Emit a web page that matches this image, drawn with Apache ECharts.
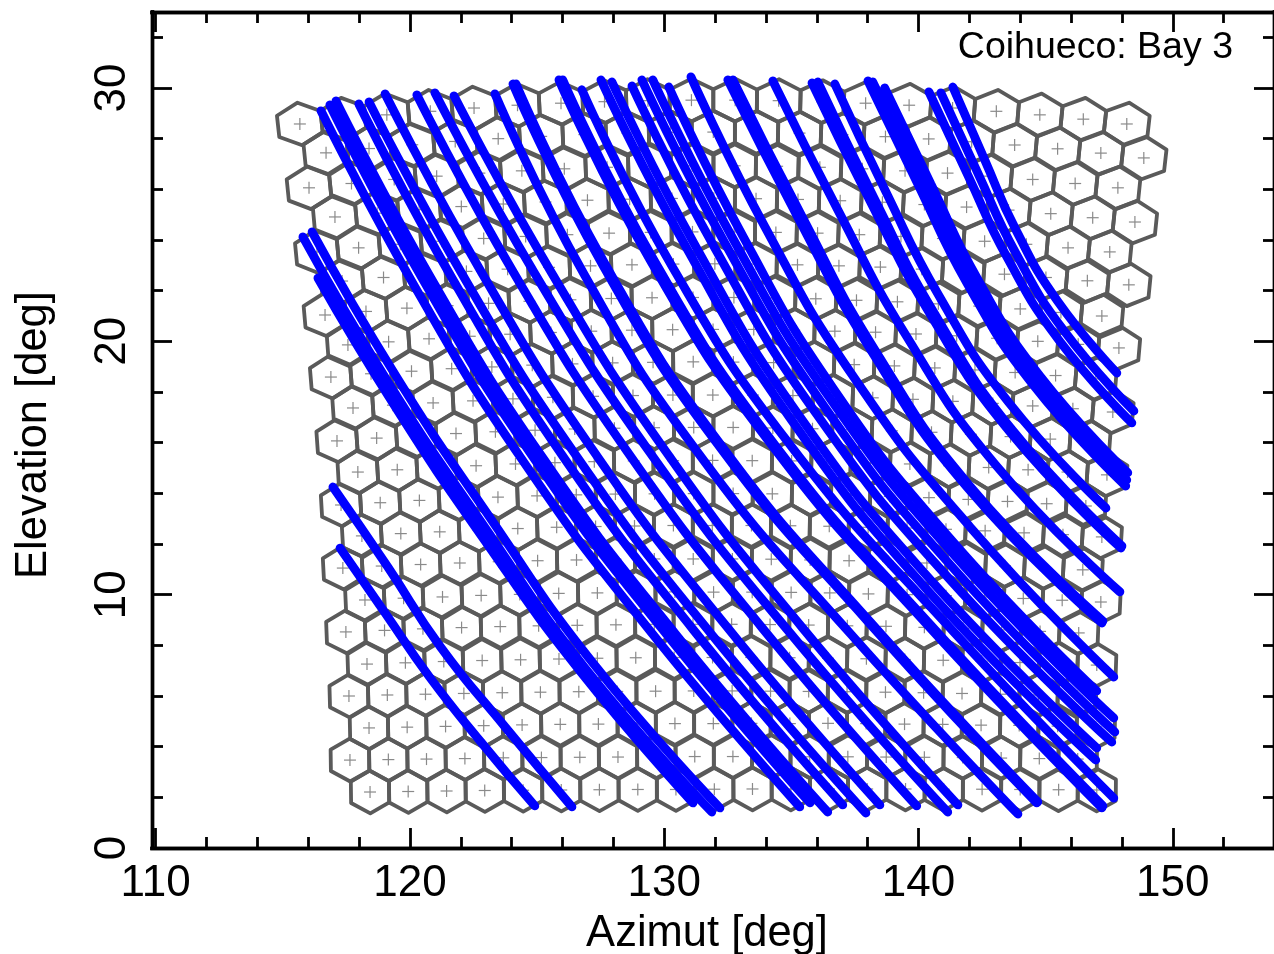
<!DOCTYPE html>
<html><head><meta charset="utf-8"><style>html,body{margin:0;padding:0;background:#fff}#c{width:1274px;height:954px}</style>
<script src="https://cdn.jsdelivr.net/npm/echarts@6/dist/echarts.min.js"></script></head><body><div id="c"></div>
<script>
const xMajor=[110,120,130,140,150];
const xMinor=[112,114,116,118,122,124,126,128,132,134,136,138,142,144,146,148,152];
const yMajor=[0,10,20,30];
const yMinor=[2,4,6,8,12,14,16,18,22,24,26,28,32];
const titleText="Coihueco: Bay 3";
const rowAz=[
[115.67,117.38,119.09,120.80,122.52,124.23,125.94,127.65,129.36,131.07,132.79,134.50,136.21,137.92,139.63,141.34,143.06,144.77,146.48,148.19],
[116.70,118.39,120.09,121.78,123.47,125.16,126.86,128.55,130.24,131.93,133.63,135.32,137.01,138.70,140.40,142.09,143.78,145.47,147.17,148.86],
[116.03,117.70,119.38,121.05,122.73,124.40,126.07,127.75,129.42,131.10,132.77,134.44,136.12,137.79,139.47,141.14,142.81,144.49,146.16,147.84],
[117.05,118.71,120.36,122.02,123.67,125.33,126.98,128.64,130.30,131.95,133.61,135.26,136.92,138.58,140.23,141.89,143.54,145.20,146.85,148.51],
[116.34,117.98,119.62,121.26,122.90,124.55,126.19,127.83,129.47,131.11,132.75,134.39,136.03,137.67,139.31,140.96,142.60,144.24,145.88,147.52],
[117.33,118.96,120.59,122.22,123.84,125.47,127.10,128.73,130.36,131.99,133.61,135.24,136.87,138.50,140.13,141.76,143.38,145.01,146.64,148.27],
[116.66,118.27,119.88,121.48,123.09,124.70,126.31,127.92,129.52,131.13,132.74,134.35,135.96,137.56,139.17,140.78,142.39,144.00,145.60,147.21],
[117.56,119.16,120.75,122.35,123.94,125.54,127.13,128.73,130.33,131.92,133.52,135.11,136.71,138.31,139.90,141.50,143.09,144.69,146.28,147.88],
[116.89,118.47,120.06,121.64,123.22,124.81,126.39,127.97,129.56,131.14,132.72,134.30,135.89,137.47,139.05,140.64,142.22,143.80,145.39,146.97],
[117.76,119.33,120.91,122.48,124.05,125.62,127.20,128.77,130.34,131.91,133.49,135.06,136.63,138.20,139.78,141.35,142.92,144.49,146.07,147.64],
[117.13,118.69,120.25,121.81,123.36,124.92,126.48,128.04,129.60,131.16,132.71,134.27,135.83,137.39,138.95,140.51,142.06,143.62,145.18,146.74],
[117.95,119.50,121.05,122.60,124.15,125.70,127.25,128.80,130.35,131.90,133.46,135.01,136.56,138.11,139.66,141.21,142.76,144.31,145.86,147.41],
[117.29,118.83,120.37,121.92,123.46,125.00,126.54,128.08,129.62,131.16,132.71,134.25,135.79,137.33,138.87,140.41,141.96,143.50,145.04,146.58],
[118.11,119.64,121.17,122.70,124.24,125.77,127.30,128.83,130.36,131.89,133.43,134.96,136.49,138.02,139.55,141.08,142.62,144.15,145.68,147.21],
[117.36,118.89,120.42,121.96,123.49,125.02,126.55,128.08,129.61,131.14,132.68,134.21,135.74,137.27,138.80,140.33,141.87,143.40,144.93,146.46],
[118.23,119.75,121.28,122.80,124.32,125.85,127.37,128.89,130.42,131.94,133.46,134.99,136.51,138.03,139.55,141.08,142.60,144.12,145.65,147.17],
[117.48,119.00,120.51,122.03,123.55,125.06,126.58,128.10,129.61,131.13,132.65,134.16,135.68,137.20,138.72,140.23,141.75,143.27,144.78,146.30],
[118.31,119.82,121.33,122.84,124.35,125.86,127.37,128.88,130.39,131.90,133.42,134.93,136.44,137.95,139.46,140.97,142.48,143.99,145.50,147.01],
[117.60,119.11,120.61,122.12,123.63,125.13,126.64,128.15,129.66,131.16,132.67,134.18,135.68,137.19,138.70,140.20,141.71,143.22,144.72,146.23],
[118.39,119.89,121.40,122.90,124.41,125.91,127.41,128.92,130.42,131.93,133.43,134.94,136.44,137.94,139.45,140.95,142.46,143.96,145.47,146.97],
[117.64,119.15,120.65,122.16,123.67,125.17,126.68,128.18,129.69,131.20,132.70,134.21,135.72,137.22,138.73,140.23,141.74,143.25,144.75,146.26],
[118.43,119.93,121.44,122.94,124.45,125.95,127.45,128.96,130.46,131.97,133.47,134.98,136.48,137.98,139.49,140.99,142.50,144.00,145.51,147.01]
];
const rowEl=[
[28.58,28.77,28.94,29.08,29.21,29.32,29.40,29.46,29.50,29.52,29.52,29.50,29.46,29.40,29.32,29.21,29.08,28.94,28.77,28.58],
[27.44,27.61,27.76,27.89,28.00,28.09,28.16,28.22,28.25,28.26,28.25,28.22,28.16,28.08,27.99,27.88,27.75,27.60,27.43,27.24],
[26.06,26.23,26.39,26.52,26.64,26.73,26.81,26.87,26.91,26.93,26.93,26.91,26.87,26.81,26.73,26.64,26.52,26.39,26.23,26.06],
[24.91,25.06,25.20,25.32,25.42,25.50,25.57,25.61,25.64,25.65,25.63,25.60,25.55,25.49,25.40,25.30,25.18,25.04,24.88,24.71],
[23.53,23.69,23.83,23.95,24.06,24.14,24.21,24.27,24.30,24.32,24.32,24.30,24.27,24.21,24.14,24.06,23.95,23.83,23.69,23.53],
[22.38,22.52,22.64,22.76,22.85,22.92,22.98,23.02,23.05,23.06,23.05,23.02,22.98,22.93,22.85,22.76,22.65,22.52,22.39,22.23],
[21.04,21.18,21.31,21.41,21.50,21.58,21.64,21.69,21.72,21.73,21.73,21.71,21.68,21.62,21.56,21.48,21.39,21.28,21.14,21.00],
[19.86,19.98,20.10,20.20,20.28,20.35,20.40,20.44,20.46,20.47,20.47,20.44,20.40,20.36,20.29,20.22,20.12,20.00,19.88,19.74],
[18.59,18.72,18.82,18.92,18.99,19.06,19.11,19.15,19.17,19.19,19.18,19.16,19.14,19.08,19.03,18.95,18.87,18.77,18.65,18.52],
[17.37,17.48,17.57,17.65,17.73,17.79,17.83,17.86,17.88,17.88,17.88,17.86,17.82,17.77,17.71,17.63,17.55,17.45,17.34,17.21],
[16.07,16.18,16.28,16.36,16.43,16.49,16.54,16.57,16.59,16.60,16.60,16.58,16.55,16.52,16.47,16.41,16.33,16.24,16.14,16.03],
[14.84,14.93,15.02,15.09,15.16,15.21,15.25,15.28,15.29,15.30,15.29,15.28,15.25,15.20,15.16,15.09,15.02,14.93,14.84,14.73],
[13.54,13.63,13.72,13.78,13.85,13.90,13.94,13.97,13.98,13.99,13.99,13.98,13.95,13.92,13.88,13.83,13.76,13.68,13.59,13.50],
[12.32,12.41,12.48,12.55,12.61,12.66,12.69,12.71,12.73,12.73,12.73,12.72,12.70,12.66,12.63,12.58,12.52,12.44,12.37,12.28],
[11.05,11.13,11.19,11.25,11.30,11.34,11.37,11.40,11.41,11.41,11.41,11.40,11.37,11.34,11.31,11.25,11.20,11.14,11.06,10.98],
[9.79,9.86,9.91,9.97,10.01,10.05,10.07,10.09,10.11,10.10,10.10,10.09,10.07,10.03,10.00,9.96,9.91,9.85,9.78,9.71],
[8.53,8.59,8.65,8.70,8.74,8.77,8.79,8.81,8.83,8.83,8.83,8.82,8.80,8.77,8.75,8.71,8.67,8.61,8.55,8.49],
[7.26,7.31,7.36,7.40,7.43,7.46,7.49,7.51,7.52,7.52,7.52,7.51,7.49,7.47,7.44,7.41,7.37,7.32,7.27,7.22],
[6.00,6.04,6.07,6.10,6.13,6.15,6.17,6.18,6.19,6.20,6.20,6.19,6.18,6.17,6.15,6.13,6.10,6.07,6.04,6.00],
[4.74,4.77,4.80,4.83,4.86,4.88,4.89,4.90,4.91,4.91,4.92,4.91,4.92,4.91,4.89,4.88,4.85,4.84,4.81,4.78],
[3.47,3.49,3.51,3.53,3.56,3.57,3.58,3.59,3.60,3.61,3.61,3.61,3.60,3.60,3.59,3.58,3.57,3.55,3.53,3.51],
[2.21,2.23,2.25,2.27,2.28,2.29,2.30,2.31,2.31,2.32,2.33,2.33,2.33,2.33,2.33,2.32,2.32,2.31,2.30,2.29]
];
const trackAz=[
[117.25,119.01,120.77,122.77,124.91],[116.97,119.13,121.20,123.74,126.37],[116.38,119.48,122.94,126.71,131.13],
[115.79,119.10,122.87,126.89,131.87],[116.15,119.45,123.21,127.22,132.19],[116.50,120.15,124.39,129.51,135.33],
[116.85,120.51,124.76,129.90,135.73],[117.09,120.84,125.19,130.45,136.43],[117.99,121.68,125.96,131.14,137.02],
[118.39,122.18,126.58,131.89,137.93],[119.02,122.80,127.17,132.47,138.48],[120.27,124.08,128.51,133.86,139.93],
[120.98,124.89,129.43,134.92,141.15],[121.73,125.58,130.03,135.43,141.55],[123.34,126.84,131.36,137.33,143.91],
[124.05,127.55,132.08,138.06,144.65],[124.17,127.66,132.17,138.12,144.69],[125.86,129.49,134.19,140.38,147.21],
[126.01,129.62,134.29,140.45,147.25],[126.76,130.32,134.92,140.99,147.68],[127.51,130.92,135.00,140.35,146.97],
[127.94,131.28,135.28,140.53,147.01],[128.73,132.03,135.99,141.18,147.60],[129.12,132.38,136.28,141.40,147.72],
[129.55,132.72,136.53,141.52,147.68],[130.18,133.13,136.66,141.29,147.01],[131.05,133.96,137.45,142.03,147.68],
[132.50,135.22,138.16,141.91,147.21],[132.70,135.39,138.30,142.01,147.25],[134.27,136.80,139.53,143.01,147.92],
[135.81,138.06,140.49,143.59,147.96],[136.04,138.25,140.64,143.69,148.00],[136.71,138.68,140.81,143.53,147.37],
[138.01,139.94,141.91,144.50,148.15],[138.20,140.10,142.05,144.59,148.19],[138.67,140.49,142.35,144.79,148.23],
[140.41,141.93,143.48,145.52,148.39],[140.88,142.32,143.80,145.74,148.47],[141.35,142.58,143.83,145.48,147.80]
];
const trackEl=[
[11.84,9.30,6.75,4.21,1.66],[14.25,11.09,7.94,4.78,1.62],[22.50,17.32,12.14,6.96,1.78],
[24.12,18.45,12.77,7.10,1.42],[24.32,18.63,12.95,7.27,1.58],[29.10,22.23,15.36,8.49,1.62],
[29.33,22.44,15.55,8.67,1.78],[29.49,22.47,15.45,8.44,1.42],[29.37,22.45,15.54,8.62,1.70],
[29.45,22.43,15.42,8.40,1.38],[29.77,22.75,15.74,8.72,1.70],[29.73,22.71,15.70,8.68,1.66],
[29.81,22.71,15.62,8.52,1.42],[29.69,22.69,15.70,8.70,1.70],[29.77,22.66,15.56,8.45,1.34],
[30.16,23.07,15.97,8.88,1.78],[30.16,23.08,15.99,8.90,1.82],[30.32,23.13,15.95,8.77,1.58],
[30.32,23.16,15.99,8.83,1.66],[29.93,22.94,15.95,8.96,1.97],[30.32,23.61,16.90,10.18,3.47],
[30.24,23.67,17.10,10.52,3.95],[30.08,23.61,17.13,10.66,4.18],[30.32,23.89,17.45,11.01,4.58],
[30.32,24.02,17.73,11.43,5.13],[30.04,24.08,18.12,12.16,6.20],[30.44,24.52,18.59,12.67,6.75],
[30.32,24.96,19.60,14.24,8.88],[30.32,24.98,19.64,14.30,8.96],[30.28,25.24,20.20,15.15,10.11],
[30.20,25.61,21.02,16.43,11.84],[30.24,25.66,21.08,16.50,11.92],[30.16,25.98,21.79,17.61,13.42],
[30.28,26.28,22.29,18.29,14.29],[30.24,26.31,22.39,18.46,14.53],[30.00,26.20,22.41,18.61,14.81],
[29.85,26.58,23.32,20.05,16.78],[29.81,26.67,23.53,20.39,17.25],[30.04,27.22,24.40,21.57,18.75]
];
const chart=echarts.init(document.getElementById('c'),null,{renderer:'canvas'});
const FONT='"Liberation Sans",Arial,sans-serif';
const hexData=[];
rowAz.forEach((r,i)=>r.forEach((a,j)=>hexData.push([a,rowEl[i][j],i,j])));
function renderHex(params,api){
  const i=api.value(2),j=api.value(3);
  const c=api.coord([api.value(0),api.value(1)]);
  const j0=Math.max(0,j-1),j1=Math.min(19,j+1);
  const p0=api.coord([rowAz[i][j0],rowEl[i][j0]]),p1=api.coord([rowAz[i][j1],rowEl[i][j1]]);
  const dx=p1[0]-p0[0],dy=p1[1]-p0[1],len=Math.hypot(dx,dy),sp=len/(j1-j0);
  const ux=dx/len,uy=dy/len;
  const w=sp/2,R=21.4;
  const pts=[[0,-R],[w,-R/2],[w,R/2],[0,R],[-w,R/2],[-w,-R/2]].map(p=>[c[0]+p[0]*ux-p[1]*uy,c[1]+p[0]*uy+p[1]*ux]);
  const cross={stroke:'#8a8a8a',lineWidth:1.2};
  return {type:'group',children:[
    {type:'polygon',shape:{points:pts},style:{fill:'none',stroke:'#5a5a5a',lineWidth:3.8,lineJoin:'round'}},
    {type:'line',shape:{x1:c[0]-6,y1:c[1],x2:c[0]+6,y2:c[1]},style:cross},
    {type:'line',shape:{x1:c[0],y1:c[1]-6,x2:c[0],y2:c[1]+6},style:cross}
  ]};
}
const axLine={show:true,onZero:false,lineStyle:{color:'#000',width:3.4,cap:'square'}};
function xAx(pos,ticks,len,label){return {type:'value',position:pos,min:109.855,max:153.98,splitLine:{show:false},axisLine:axLine,
  axisTick:{show:true,inside:true,length:len,customValues:ticks,lineStyle:{color:'#000',width:2.8}},
  axisLabel:label?{show:true,customValues:xMajor,color:'#000',fontFamily:FONT,fontSize:44,margin:14,formatter:v=>String(v)}:{show:false},
  name:label?'Azimut [deg]':'',nameLocation:'middle',nameGap:64,nameTextStyle:{color:'#000',fontFamily:FONT,fontSize:43.5,padding:[0,12,0,0]}};}
function yAx(pos,ticks,len,label){return {type:'value',position:pos,min:0,max:33,splitLine:{show:false},axisLine:axLine,
  axisTick:{show:true,inside:true,length:len,customValues:ticks,lineStyle:{color:'#000',width:2.8}},
  axisLabel:label?{show:true,customValues:yMajor,rotate:90,color:'#000',fontFamily:FONT,fontSize:44,margin:17,formatter:v=>String(v)}:{show:false},
  name:label?'Elevation [deg]':'',nameLocation:'middle',nameGap:96,nameTextStyle:{color:'#000',fontFamily:FONT,fontSize:43.5,padding:[0,10,0,0]}};}
const series=[{type:'custom',name:'Pixels',renderItem:renderHex,data:hexData,encode:{x:0,y:1},silent:true,animation:false,clip:false,z:2}];
trackAz.forEach((az,k)=>series.push({type:'line',name:'Track '+(k+1),data:az.map((a,n)=>[a,trackEl[k][n]]),smooth:0.5,showSymbol:false,symbol:'none',
  lineStyle:{color:'#0000ff',width:8.8,cap:'round',join:'round'},silent:true,animation:false,z:3}));
chart.setOption({
  animation:false,backgroundColor:'#fff',
  grid:{left:152,right:0,top:12,bottom:106,containLabel:false,outerBoundsMode:'none'},
  xAxis:[xAx('bottom',xMajor,20,true),xAx('bottom',xMinor,11,false),xAx('top',xMajor,20,false),xAx('top',xMinor,11,false)],
  yAxis:[yAx('left',yMajor,20,true),yAx('left',yMinor,11,false),yAx('right',yMajor,20,false),yAx('right',yMinor,11,false)],
  series,
  graphic:[{type:'text',right:41,top:29,style:{text:titleText,fontFamily:FONT,fontSize:37.5,fill:'#000'}}]
});
</script></body></html>
